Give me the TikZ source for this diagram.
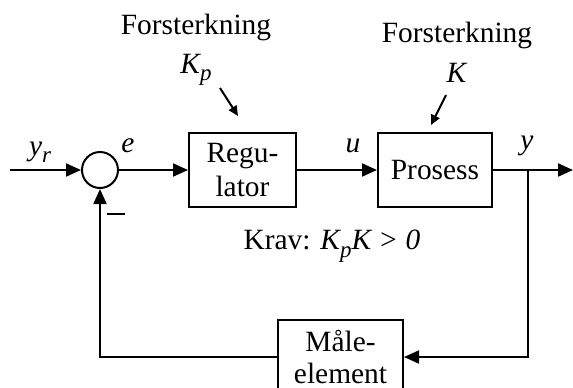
\documentclass[tikz,border=0pt]{standalone}
\usepackage{fontspec}
\setmainfont{Liberation Serif}
\usetikzlibrary{arrows.meta}

\newcommand{\nedsatt}[1]{\raisebox{-0.55ex}{\fontsize{11.5}{12}\selectfont #1}}

\tikzset{
  blokk/.style={draw, align=center, inner sep=0pt, minimum height=37pt},
  pil/.style={-{Triangle[length=7.5pt,width=6.5pt]}},
  liten/.style={-{Triangle[length=5pt,width=4.5pt]}}
}

\begin{document}
\begin{tikzpicture}[x=0.5pt, y=-0.5pt, line width=1pt,
    font=\fontsize{14.7}{17}\selectfont]
  \useasboundingbox (0,0) rectangle (573,387);
  % blokker
  \node[circle, draw, minimum size=18pt, inner sep=0pt] (sum) at (100,170) {};
  \node[blokk, minimum width=53.5pt] (reg)  at (242.5,170) {Regu-\\lator};
  \node[blokk, minimum width=57pt]   (pros) at (435,170)   {Prosess};
  \node[blokk, minimum width=62.5pt, font=\fontsize{14.7}{16}\selectfont]
    (male) at (340.5,357) {Måle-\\element};
  \coordinate (inn)  at (10,170);
  \coordinate (gren) at (528,170);
  \coordinate (ut)   at (573,170);
  \coordinate (hj)   at (528,357);
  \coordinate (vj)   at (100,357);
  % signaler
  \draw[pil] (inn)  -- (sum);
  \draw[pil] (sum)  -- (reg);
  \draw[pil] (reg)  -- (pros);
  \draw      (pros) -- (gren);
  \draw[pil] (gren) -- (ut);
  \draw[pil] (gren) -- (hj) -- (male.east);
  \draw[pil] (male.west) -- (vj) -- (sum.south);
  % tekster
  \node (yr)    at (40,152)  {\textit{y\nedsatt{r}}};
  \node (e)     at (128,146) {\textit{e}};
  \node (u)     at (353,146) {\textit{u}};
  \node (y)     at (527,146) {\textit{y}};
  \node (minus) at (116,214) {\rule{9pt}{1pt}};
  \node (krav)  at (332,246) {Krav: \textit{K\nedsatt{p}K > 0}};
  \node (fk1)   at (196,27)  {Forsterkning};
  \node (kp)    at (196,70)  {\textit{K\nedsatt{p}}};
  \node (fk2)   at (457,35)  {Forsterkning};
  \node (k)     at (457,73)  {\textit{K}};
  \coordinate (a1) at (220,88);
  \coordinate (b1) at (238,116);
  \coordinate (a2) at (446,95);
  \coordinate (b2) at (431,125);
  \draw[liten] (a1) -- (b1);
  \draw[liten] (a2) -- (b2);
\end{tikzpicture}
\end{document}
